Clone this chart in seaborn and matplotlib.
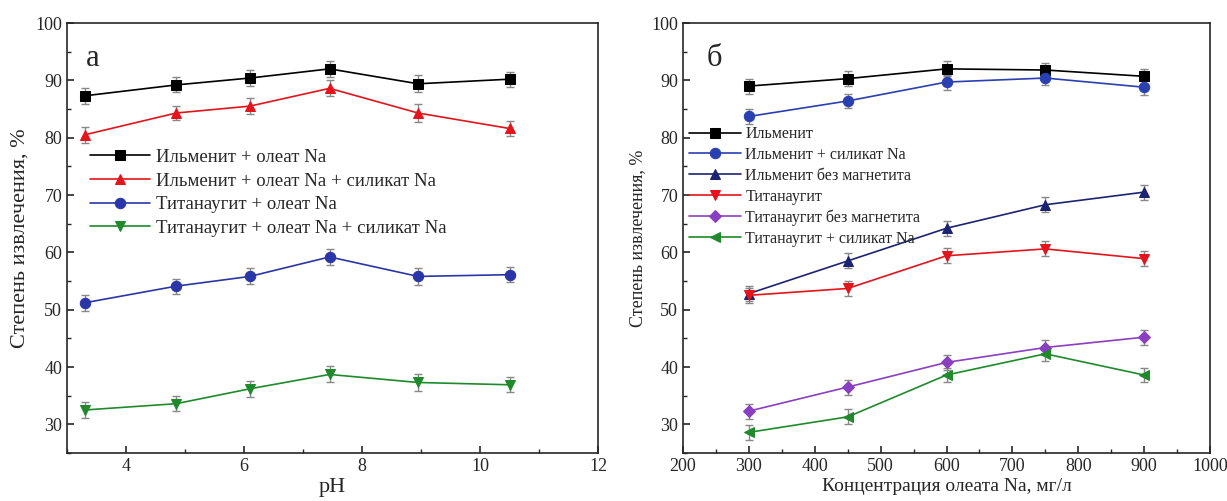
import numpy as np
import pandas as pd
import seaborn as sns
import matplotlib.pyplot as plt
from matplotlib.ticker import MultipleLocator

# panel a: recovery vs pH
ph = [3.3, 4.85, 6.1, 7.45, 8.95, 10.5]
ilm_oleate = [87.3, 89.2, 90.4, 92.0, 89.4, 90.2]
ilm_oleate_sil = [80.5, 84.3, 85.5, 88.6, 84.3, 81.6]
tit_oleate = [51.2, 54.1, 55.8, 59.2, 55.8, 56.1]
tit_oleate_sil = [32.5, 33.6, 36.2, 38.7, 37.3, 36.9]
err_a = [1.4, 1.3, 1.4, 1.4, 1.5, 1.3]

# panel b: recovery vs oleate concentration
conc = [300, 450, 600, 750, 900]
ilm = [89.0, 90.3, 92.0, 91.8, 90.7]
ilm_sil = [83.7, 86.4, 89.7, 90.4, 88.8]
ilm_nomag = [52.8, 58.5, 64.2, 68.3, 70.5]
tit = [52.5, 53.7, 59.4, 60.6, 58.9]
tit_nomag = [32.3, 36.5, 40.8, 43.4, 45.2]
tit_sil = [28.6, 31.3, 38.6, 42.3, 38.6]
err_b = [1.3, 1.3, 1.3, 1.3, 1.3]

sns.set_style("ticks")
plt.rcParams['font.family'] = ['Liberation Serif', 'DejaVu Serif']

fig = plt.figure(figsize=(12.27, 5.01), dpi=100)
ax1 = fig.add_axes([67 / 1227, 48 / 501, 531 / 1227, 430 / 501])
ax2 = fig.add_axes([683 / 1227, 48 / 501, 527 / 1227, 430 / 501])

series_a = [
    ("Ильменит + олеат Na", ilm_oleate, "black", "s"),
    ("Ильменит + олеат Na + силикат Na", ilm_oleate_sil, "#e3141c", "^"),
    ("Титанаугит + олеат Na", tit_oleate, "#2a36a8", "o"),
    ("Титанаугит + олеат Na + силикат Na", tit_oleate_sil, "#1f8a2c", "v"),
]
for label, vals, color, marker in series_a:
    df = pd.DataFrame({"x": ph, "y": vals})
    sns.lineplot(data=df, x="x", y="y", ax=ax1, color=color, marker=marker,
                 markersize=7.5, markeredgecolor=color, linewidth=1.2, label=label)
    ax1.errorbar(ph, vals, yerr=err_a, fmt="none", ecolor="#888888",
                 elinewidth=1, capsize=3, capthick=1, zorder=1)

series_b = [
    ("Ильменит", ilm, "black", "s"),
    ("Ильменит + силикат Na", ilm_sil, "#2a3fb0", "o"),
    ("Ильменит без магнетита", ilm_nomag, "#1c2370", "^"),
    ("Титанаугит", tit, "#e3141c", "v"),
    ("Титанаугит без магнетита", tit_nomag, "#8a3fc0", "D"),
    ("Титанаугит + силикат Na", tit_sil, "#1f8a2c", "<"),
]
for label, vals, color, marker in series_b:
    df = pd.DataFrame({"x": conc, "y": vals})
    ms = 6.5 if marker == "D" else 7.5
    sns.lineplot(data=df, x="x", y="y", ax=ax2, color=color, marker=marker,
                 markersize=ms, markeredgecolor=color, linewidth=1.2, label=label)
    ax2.errorbar(conc, vals, yerr=err_b, fmt="none", ecolor="#888888",
                 elinewidth=1, capsize=3, capthick=1, zorder=1)

for ax in (ax1, ax2):
    ax.set_ylim(25, 100)
    ax.yaxis.set_major_locator(MultipleLocator(10))
    ax.yaxis.set_minor_locator(MultipleLocator(5))
    ax.tick_params(which="both", direction="in", top=False, right=False, labelsize=13)
    ax.tick_params(which="major", length=5, width=1.2)
    ax.tick_params(which="minor", length=3, width=1)
    for s in ax.spines.values():
        s.set_visible(True)
        s.set_linewidth(1.2)

ax1.set_xlim(3, 12)
ax1.xaxis.set_major_locator(MultipleLocator(2))
ax1.xaxis.set_minor_locator(MultipleLocator(1))
ax1.set_xlabel("pH", fontsize=16, labelpad=2)
ax1.set_ylabel("Степень извлечения, %", fontsize=16, labelpad=4)
ax1.text(0.036, 0.95, "а", transform=ax1.transAxes, fontsize=22, va="top")
ax1.legend(loc="upper left", bbox_to_anchor=(0.03, 0.725), frameon=False,
           fontsize=13.5, handlelength=3.2, handletextpad=0.3,
           labelspacing=0.35, borderaxespad=0)

ax2.set_xlim(200, 1000)
ax2.xaxis.set_major_locator(MultipleLocator(100))
ax2.xaxis.set_minor_locator(MultipleLocator(50))
ax2.set_xlabel("Концентрация олеата Na, мг/л", fontsize=14, labelpad=2)
ax2.set_ylabel("Степень извлечения, %", fontsize=13, labelpad=4)
ax2.text(0.045, 0.95, "б", transform=ax2.transAxes, fontsize=22, va="top")
ax2.legend(loc="upper left", bbox_to_anchor=(0.0, 0.775), frameon=False,
           fontsize=11.5, handlelength=3.2, handletextpad=0.3,
           labelspacing=0.3, borderaxespad=0)

fig.savefig("out.png", dpi=100)
